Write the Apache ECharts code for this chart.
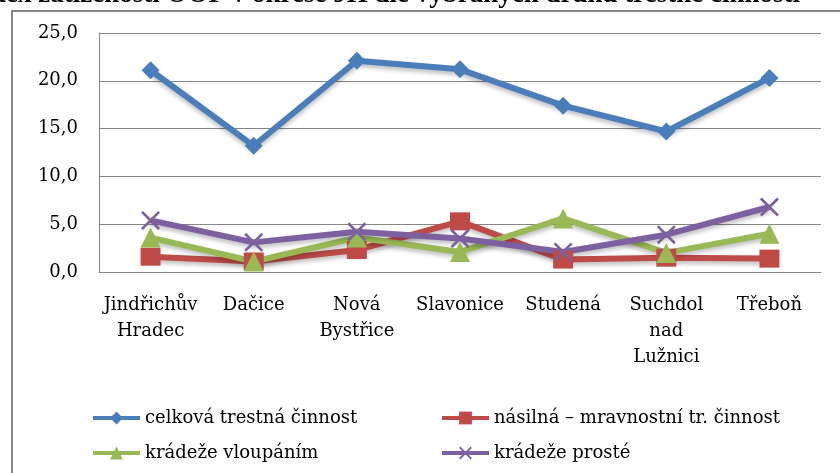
<!DOCTYPE html>
<html>
<head>
<meta charset="utf-8">
<script src="https://cdn.jsdelivr.net/npm/echarts@6/dist/echarts.min.js"></script>
<style>
    html, body { margin: 0; padding: 0; background: #fff; }
    #chart { width: 840px; height: 473px; }
</style>
</head>
<body>
<div id="chart"></div>
<script>
// data
var mesta = ['Jindřichův\nHradec', 'Dačice', 'Nová\nBystřice', 'Slavonice', 'Studená', 'Suchdol\nnad\nLužnici', 'Třeboň'];
var celkova = [21.1, 13.2, 22.1, 21.2, 17.4, 14.7, 20.3];
var nasilna = [1.6, 1.1, 2.3, 5.3, 1.3, 1.5, 1.4];
var vloupani = [3.6, 1.1, 3.6, 2.1, 5.6, 2.0, 4.0];
var proste = [5.4, 3.1, 4.2, 3.5, 2.1, 3.9, 6.8];
var nazvy = ['celková trestná činnost', 'násilná – mravnostní tr. činnost', 'krádeže vloupáním', 'krádeže prosté'];

var font = 'DejaVu Serif';
var krizek = 'path://M0,1L1,0L5,4L9,0L10,1L6,5L10,9L9,10L5,6L1,10L0,9L4,5Z';

function rada(name, data, color, symbol, size) {
    return {
        name: name,
        type: 'line',
        data: data,
        symbol: symbol,
        symbolSize: size,
        itemStyle: { color: color },
        lineStyle: {
            color: color,
            width: 6,
            shadowColor: 'rgba(0,0,0,0.25)',
            shadowBlur: 4,
            shadowOffsetY: 3
        },
        emphasis: { disabled: true }
    };
}

var legendBase = {
    orient: 'vertical',
    top: 404,
    itemWidth: 47, itemHeight: 16, itemGap: 17,
    lineStyle: { width: 4, shadowBlur: 0, shadowOffsetY: 0 },
    textStyle: { fontFamily: font, fontSize: 18, color: '#000' }
};

var option = {
    animation: false,
    backgroundColor: '#fff',
    graphic: [
        {
            type: 'rect',
            shape: { x: 12, y: 11, width: 900, height: 600 },
            style: { fill: 'none', stroke: '#868686', lineWidth: 2 }
        },
        {
            type: 'text',
            style: {
                text: 'Index zatíženosti OOP v okrese JH dle vybraných druhů trestné činnosti',
                x: 800, y: -5,
                align: 'right',
                verticalAlign: 'middle',
                font: 'bold 27px "Liberation Serif"',
                fill: '#000'
            }
        }
    ],
    grid: { left: 99, right: 19, top: 33, bottom: 201 },
    legend: [
        Object.assign({}, legendBase, { data: [nazvy[0], nazvy[2]], left: 86 }),
        Object.assign({}, legendBase, { data: [nazvy[1], nazvy[3]], left: 435 })
    ],
    xAxis: {
        type: 'category',
        data: mesta,
        axisLine: { lineStyle: { color: '#868686', width: 1 } },
        axisTick: { show: false },
        axisLabel: {
            interval: 0,
            margin: 20,
            fontFamily: font,
            fontSize: 18,
            lineHeight: 26,
            color: '#000'
        }
    },
    yAxis: {
        type: 'value',
        min: 0,
        max: 25,
        interval: 5,
        axisLine: { show: true, lineStyle: { color: '#868686', width: 1 } },
        axisTick: { show: false },
        splitLine: { lineStyle: { color: '#868686', width: 1 } },
        axisLabel: {
            margin: 21,
            fontFamily: font,
            fontSize: 18,
            color: '#000',
            formatter: function (v) { return v.toFixed(1).replace('.', ','); }
        }
    },
    series: [
        rada(nazvy[0], celkova, '#4A7EBB', 'diamond', 18),
        rada(nazvy[1], nasilna, '#BE4B48', 'rect', [20, 18]),
        rada(nazvy[2], vloupani, '#98B954', 'triangle', 20),
        rada(nazvy[3], proste, '#7D60A0', krizek, 19)
    ]
};

var chart = echarts.init(document.getElementById('chart'));
chart.setOption(option);
</script>
</body>
</html>
